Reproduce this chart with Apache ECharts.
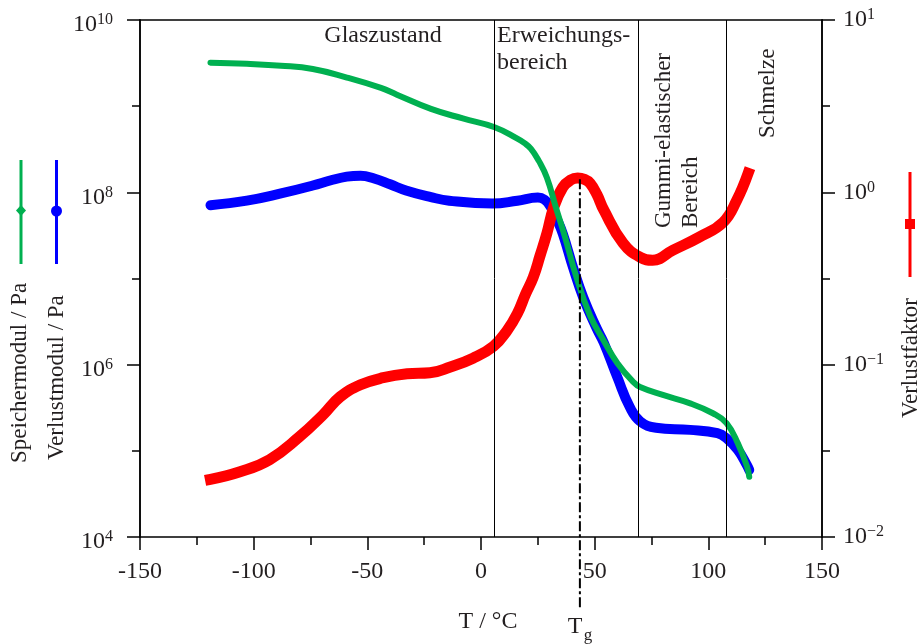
<!DOCTYPE html>
<html><head><meta charset="utf-8">
<script src="https://cdn.jsdelivr.net/npm/echarts@6/dist/echarts.min.js"></script>
<style>html,body{margin:0;padding:0;background:#fff}#c{width:917px;height:644px}</style>
</head><body><div id="c"></div>
<script>
// ---- data ----
const storageT = [-119, -103, -88, -74, -59, -44, -37, -22, -8, 6, 16, 19, 22, 25.5, 29, 33, 37, 42, 48, 54, 60, 67, 70, 80, 92, 102, 108, 113, 117, 118];
const storageV = [3.2e9, 3.1e9, 2.95e9, 2.7e9, 2.15e9, 1.63e9, 1.36e9, 9.3e8, 7.2e8, 5.7e8, 4.2e8, 3.75e8, 3.2e8, 2.3e8, 1.48e8, 6.6e7, 3.0e7, 1.03e7, 3.7e6, 1.9e6, 1.04e6, 6.3e5, 5.5e5, 4.45e5, 3.56e5, 2.73e5, 2.1e5, 1.22e5, 6.6e4, 5.0e4];
const lossT = [-119, -103, -88, -74, -66, -59, -53, -47, -40, -33, -22, -14, 5, 16, 25, 28, 30.5, 33, 36, 40.5, 45, 51, 54, 60, 65.5, 70, 77, 92, 104, 108, 113, 117, 118];
const lossV = [7.1e7, 8.0e7, 9.7e7, 1.2e8, 1.38e8, 1.52e8, 1.56e8, 1.45e8, 1.24e8, 1.05e8, 8.8e7, 8.0e7, 7.4e7, 8.0e7, 8.7e7, 8.2e7, 6.9e7, 5.1e7, 3.3e7, 1.34e7, 6.0e6, 2.6e6, 1.8e6, 7.1e5, 3.2e5, 2.2e5, 1.85e5, 1.75e5, 1.6e5, 1.4e5, 1.02e5, 6.8e4, 6.0e4];
const factorT = [-119, -106, -93, -80, -69.5, -62, -53, -43, -32.5, -22.5, -13.5, -3.5, 5.5, 11.5, 16, 19.5, 23, 26, 29, 32, 36, 39.5, 42.5, 45.5, 48, 51, 54, 62.5, 70, 75.5, 84.5, 96, 106.5, 112.5, 117.5];
const factorV = [0.0216, 0.0239, 0.0281, 0.038, 0.0511, 0.065, 0.0764, 0.084, 0.0885, 0.0897, 0.097, 0.109, 0.128, 0.158, 0.198, 0.255, 0.322, 0.43, 0.579, 0.82, 1.07, 1.18, 1.21, 1.19, 1.13, 0.97, 0.79, 0.507, 0.42, 0.404, 0.462, 0.55, 0.67, 0.90, 1.29];
const xTickLabels = [-150, -100, -50, 0, 50, 100, 150];
const leftExps = [4, 6, 8, 10];
const rightExps = [-2, -1, 0, 1];
const regionBounds = [6, 69, 108];
const tgT = 43.5;

const FONT = "'Liberation Serif','Times New Roman',serif";
const TXT = '#231f20';
const zip = (a, b) => a.map((v, i) => [v, b[i]]);
const supRich = {
  b: {fontSize: 24, fontFamily: FONT, color: TXT, lineHeight: 26},
  s: {fontSize: 16, fontFamily: FONT, color: TXT, verticalAlign: 'top', lineHeight: 16}
};
const expStr = e => (e < 0 ? '\u2212' + (-e) : String(e));
const axLine = {show: true, onZero: false, lineStyle: {color: '#000', width: 1.5}};
const SMOOTH = 0.45;

const chart = echarts.init(document.getElementById('c'), null, {renderer: 'canvas'});
const option = {
  animation: false,
  backgroundColor: '#fff',
  grid: {left: 140, right: 95, top: 20, bottom: 107},
  xAxis: [{
    type: 'value', min: -150, max: 150, interval: 50, position: 'bottom',
    axisLine: axLine,
    axisTick: {show: true, inside: false, length: 13, lineStyle: {color: '#000', width: 1.5}},
    minorTick: {show: true, splitNumber: 2, length: 8, lineStyle: {color: '#000', width: 1.5}},
    splitLine: {show: false}, minorSplitLine: {show: false},
    axisLabel: {margin: 23, fontSize: 24, fontFamily: FONT, color: TXT,
      formatter: v => xTickLabels.includes(v) ? String(v) : ''}
  }, {
    type: 'value', min: -150, max: 150, position: 'top',
    axisLine: axLine, axisTick: {show: false}, axisLabel: {show: false}, splitLine: {show: false}
  }],
  yAxis: [{
    type: 'log', logBase: 10, min: 1e4, max: 1e10, interval: 1, position: 'left',
    axisLine: axLine, axisTick: {show: true, length: 8, lineStyle: {color: '#000', width: 1.5}},
    axisLabel: {show: false}, splitLine: {show: false}
  }, {
    type: 'log', logBase: 10, min: 1e4, max: 1e10, interval: 2, position: 'left',
    axisLine: axLine, axisTick: {show: true, length: 13, lineStyle: {color: '#000', width: 1.5}},
    splitLine: {show: false},
    axisLabel: {margin: 27, padding: [10, 0, 0, 0], rich: supRich,
      formatter: v => { const e = Math.round(Math.log10(v)); return leftExps.includes(e) ? '{b|10}{s|' + expStr(e) + '}' : ''; }}
  }, {
    type: 'log', logBase: 10, min: 0.01, max: 10, interval: 0.5, position: 'right',
    axisLine: axLine, axisTick: {show: true, length: 8, lineStyle: {color: '#000', width: 1.5}},
    axisLabel: {show: false}, splitLine: {show: false}
  }, {
    type: 'log', logBase: 10, min: 0.01, max: 10, interval: 1, position: 'right',
    axisLine: axLine, axisTick: {show: true, length: 13, lineStyle: {color: '#000', width: 1.5}},
    splitLine: {show: false},
    axisLabel: {margin: 21, rich: supRich,
      formatter: v => { const e = Math.round(Math.log10(v)); return rightExps.includes(e) ? '{b|10}{s|' + expStr(e) + '}' : ''; }}
  }],
  series: [{
    name: 'Verlustmodul', type: 'line', xAxisIndex: 0, yAxisIndex: 1,
    data: zip(lossT, lossV), symbol: 'none', smooth: SMOOTH,
    lineStyle: {color: '#0000ff', width: 10, cap: 'round', join: 'round'}
  }, {
    name: 'Verlustfaktor', type: 'line', xAxisIndex: 0, yAxisIndex: 3,
    data: zip(factorT, factorV), symbol: 'none', smooth: SMOOTH,
    lineStyle: {color: '#ff0000', width: 11, cap: 'square', join: 'round'}
  }, {
    name: 'Speichermodul', type: 'line', xAxisIndex: 0, yAxisIndex: 1,
    data: zip(storageT, storageV), symbol: 'none', smooth: SMOOTH,
    lineStyle: {color: '#00b050', width: 6, cap: 'round', join: 'round'},
    markLine: {
      silent: true, symbol: 'none', label: {show: false}, animation: false,
      lineStyle: {color: '#000', width: 1, type: 'solid'},
      data: regionBounds.map(v => ({xAxis: v}))
    }
  }]
};
chart.setOption(option);

// decoration graphics
const peakV = Math.max(...factorV);
const pTop = chart.convertToPixel({seriesIndex: 1}, [tgT, peakV]);
const txt = (text, x, y, opts) => ({
  type: 'text', x: x, y: y,
  style: Object.assign({text: text, fontSize: 23, fontFamily: FONT, fill: TXT, align: 'left', verticalAlign: 'middle'}, opts || {})
});
const rot = (text, x, y, align) => ({
  type: 'text', x: x, y: y, rotation: Math.PI / 2,
  style: {text: text, fontSize: 23, fontFamily: FONT, fill: TXT, align: align || 'left', verticalAlign: 'middle'}
});
chart.setOption({
  graphic: [
    {type: 'line', shape: {x1: pTop[0], y1: pTop[1] + 6, x2: pTop[0], y2: 610},
     style: {stroke: '#000', lineWidth: 2, lineDash: [10, 3, 3, 3]}, z: 100},
    txt('Glaszustand', 383, 36, {align: 'center', fontSize: 24}),
    txt('Erweichungs-', 497, 36, {fontSize: 24}),
    txt('bereich', 497, 63, {fontSize: 24}),
    rot('Gummi-elastischer', 664, 228),
    rot('Bereich', 691, 228),
    rot('Schmelze', 768, 138),
    rot('Speichermodul / Pa', 20, 463),
    rot('Verlustmodul / Pa', 57, 460),
    rot('Verlustfaktor', 911, 298, 'right'),
    txt('T / °C', 488, 622, {align: 'center', fontSize: 24}),
    txt('T', 575, 627, {align: 'center', fontSize: 24}),
    txt('g', 588, 636, {align: 'center', fontSize: 17}),
    // axis-title legend glyphs
    {type: 'line', shape: {x1: 21, y1: 160, x2: 21, y2: 264}, style: {stroke: '#00b050', lineWidth: 3}},
    {type: 'polygon', shape: {points: [[21, 205], [26, 210.5], [21, 216], [16, 210.5]]}, style: {fill: '#00b050'}},
    {type: 'line', shape: {x1: 56.5, y1: 160, x2: 56.5, y2: 264}, style: {stroke: '#0000ff', lineWidth: 3}},
    {type: 'circle', shape: {cx: 56.5, cy: 211, r: 5.5}, style: {fill: '#0000ff'}},
    {type: 'line', shape: {x1: 910, y1: 172, x2: 910, y2: 277}, style: {stroke: '#ff0000', lineWidth: 3}},
    {type: 'rect', shape: {x: 905, y: 219, width: 10, height: 10}, style: {fill: '#ff0000'}}
  ]
});
</script></body></html>
